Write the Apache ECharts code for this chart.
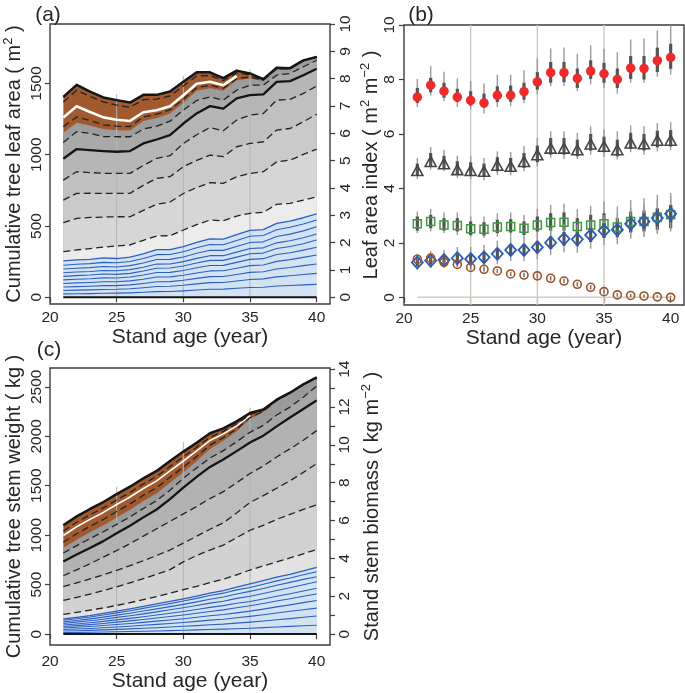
<!DOCTYPE html>
<html><head><meta charset="utf-8">
<script src="https://cdn.jsdelivr.net/npm/echarts@6/dist/echarts.min.js"></script>
<style>html,body{margin:0;padding:0;background:#fff}#c{width:685px;height:693px}</style>
</head><body><div id="c"></div>
<script>
// ---------------- data ----------------
const ages = [21,22,23,24,25,26,27,28,29,30,31,32,33,34,35,36,37,38,39,40];
const xTicks = [20,25,30,35,40];

// Panel (a): cumulative tree leaf area (m2)
const aTotal     = [1405,1490,1442,1402,1383,1366,1420,1420,1444,1512,1578,1578,1538,1590,1570,1530,1610,1607,1662,1686];
const aBrownDash1= [1370,1452,1410,1370,1348,1333,1386,1390,1412,1482,1552,1556,1520,1574,1560,1527,1607,1605,1661,1686];
const aWhite     = [1262,1340,1300,1262,1245,1237,1298,1312,1340,1418,1498,1512,1488,1551];
const aBrownDash2= [1197,1265,1240,1210,1200,1198,1265,1285,1315,1390,1470,1488,1466,1535,1545,1522,1603,1602,1661,1686];
const aBrownBase = [1155,1225,1205,1180,1172,1170,1236,1257,1290,1365,1448,1467,1449,1522,1534,1517,1600,1600,1660,1686];
const aD5        = [1086,1161,1150,1128,1126,1126,1180,1200,1235,1313,1380,1406,1383,1453,1488,1488,1558,1570,1617,1663];
const aThick     = [972,1040,1033,1026,1021,1026,1079,1107,1138,1219,1290,1341,1324,1395,1418,1423,1511,1516,1558,1603];
const aD4        = [822,881,875,870,869,869,925,974,993,1079,1140,1191,1168,1243,1278,1289,1383,1388,1430,1481];
const aD3        = [682,729,730,729,729,729,785,834,846,916,960,997,986,1056,1079,1091,1173,1184,1231,1285];
const aD2        = [523,554,560,563,565,565,610,652,668,728,770,804,799,846,869,881,950,962,1002,1040];
const aD1        = [320,332,342,352,360,367,400,430,432,472,510,542,537,570,589,596,652,659,682,705];
const aBlueTop   = [255,262,266,276,272,282,305,334,334,355,385,410,408,440,470,475,518,535,558,585];
const aBlue1 = [225,232,236,245,242,251,272,299,300,319,347,370,369,399,428,433,474,491,514,542];
const aBlue2 = [198,204,208,216,213,222,241,265,266,283,309,330,329,357,384,389,427,443,466,495];
const aBlue3 = [172,177,181,188,186,194,211,233,234,250,273,292,292,317,342,347,382,397,418,444];
const aBlue4 = [147,152,156,163,161,168,184,204,205,220,241,259,259,282,305,310,342,356,376,402];
const aBlue5 = [122,127,130,136,135,142,156,174,175,188,207,223,224,245,266,271,300,313,331,351];
const aBlue6 = [97,101,104,109,109,115,127,142,143,155,171,185,186,204,222,227,252,264,280,297];
const aBlue7 = [72,75,78,82,82,87,97,109,110,120,133,145,146,160,175,179,199,209,222,234];
const aBlue8 = [48,50,52,55,56,60,67,76,77,84,94,103,104,114,125,129,143,151,160,168];
const aBlue9 = [24,25,26,28,29,31,35,40,41,45,51,56,57,63,69,71,79,83,87,91];
const aRefX = [25,30,35];
const aRefTop = [1425,1552,1598];

// Panel (b): leaf area index
const bTotal   = [7.35,7.79,7.57,7.35,7.23,7.14,7.42,7.42,7.55,7.91,8.25,8.25,8.04,8.31,8.21,8.00,8.42,8.40,8.69,8.81];
const bTotThinHi  = [8.02,8.49,8.28,8.04,7.94,7.85,8.18,8.18,8.34,8.77,9.14,9.17,8.94,9.26,9.13,9.00,9.47,9.50,9.80,9.99];
const bTotThinLo  = [6.99,7.41,7.20,6.99,6.90,6.75,6.99,7.02,7.14,7.45,7.75,7.75,7.57,7.82,7.69,7.48,7.88,7.88,8.10,8.18];
const bTotThickHi = [7.69,8.06,7.88,7.66,7.57,7.48,7.75,7.78,7.88,8.27,8.64,8.64,8.40,8.70,8.61,8.40,8.86,8.86,9.17,9.31];
const bTotThickLo = [7.14,7.53,7.33,7.17,7.04,6.96,7.17,7.18,7.26,7.63,7.88,7.90,7.69,8.02,7.88,7.69,8.02,8.00,8.27,8.39];
const bTri     = [4.66,4.99,4.91,4.69,4.66,4.63,4.85,4.81,4.99,5.24,5.48,5.48,5.42,5.63,5.55,5.42,5.67,5.64,5.77,5.77];
const bTriThinHi  = [5.12,5.52,5.42,5.20,5.18,5.12,5.36,5.34,5.55,5.85,6.10,6.10,6.04,6.28,6.16,6.10,6.31,6.28,6.40,6.43];
const bTriThinLo  = [4.34,4.69,4.63,4.38,4.34,4.29,4.50,4.48,4.63,4.81,5.12,5.08,5.08,5.24,5.15,5.06,5.33,5.24,5.36,5.40];
const bTriThickHi = [4.91,5.30,5.20,5.00,4.96,4.91,5.15,5.12,5.30,5.57,5.85,5.85,5.79,6.00,5.90,5.79,6.04,6.00,6.12,6.14];
const bTriThickLo = [4.47,4.81,4.75,4.50,4.48,4.44,4.63,4.60,4.75,4.96,5.24,5.24,5.18,5.39,5.33,5.18,5.45,5.39,5.51,5.54];
const bSq      = [2.70,2.79,2.66,2.64,2.52,2.50,2.58,2.60,2.54,2.66,2.75,2.76,2.60,2.66,2.70,2.58,2.79,2.79,2.95,3.03];
const bSqThinHi   = [3.15,3.25,3.12,3.12,2.97,2.97,3.09,3.12,3.03,3.25,3.40,3.44,3.24,3.36,3.52,3.34,3.58,3.64,3.77,3.83];
const bSqThinLo   = [2.36,2.42,2.36,2.29,2.21,2.18,2.23,2.23,2.18,2.29,2.29,2.29,2.18,2.21,2.23,2.11,2.23,2.26,2.36,2.42];
const bSqThickHi  = [2.97,3.03,2.91,2.91,2.79,2.76,2.85,2.87,2.79,2.97,3.09,3.12,2.91,3.03,3.09,2.91,3.15,3.19,3.28,3.40];
const bSqThickLo  = [2.45,2.54,2.45,2.42,2.29,2.27,2.36,2.38,2.29,2.42,2.45,2.45,2.32,2.36,2.36,2.29,2.38,2.42,2.48,2.54];
const bDia     = [1.28,1.35,1.37,1.44,1.41,1.47,1.60,1.74,1.74,1.84,2.01,2.15,2.13,2.29,2.45,2.48,2.70,2.79,2.91,3.07];
const bDiaThinHi  = [1.60,1.70,1.75,1.85,1.85,1.92,2.08,2.22,2.22,2.36,2.55,2.70,2.68,2.85,3.02,3.05,3.30,3.40,3.55,3.70];
const bDiaThinLo  = [1.02,1.08,1.08,1.12,1.08,1.12,1.22,1.33,1.33,1.40,1.55,1.66,1.64,1.78,1.92,1.95,2.15,2.22,2.33,2.48];
const bDiaThickHi = [1.42,1.50,1.53,1.60,1.58,1.65,1.80,1.95,1.95,2.06,2.24,2.40,2.38,2.55,2.72,2.75,2.98,3.08,3.22,3.38];
const bDiaThickLo = [1.15,1.20,1.21,1.27,1.24,1.29,1.40,1.53,1.53,1.62,1.78,1.90,1.88,2.03,2.18,2.21,2.42,2.50,2.60,2.76];
const bCirc    = [1.40,1.44,1.29,1.21,1.10,1.03,0.97,0.86,0.82,0.79,0.70,0.60,0.48,0.37,0.21,0.09,0.07,0.05,0.02,0.00];
const bCircHi  = [1.48,1.52,1.37,1.29,1.18,1.11,1.05,0.94,0.90,0.87,0.78,0.68,0.56,0.45,0.29,0.16,0.13,0.11,0.08,0.06];
const bCircLo  = [1.32,1.36,1.21,1.13,1.02,0.95,0.89,0.78,0.74,0.71,0.62,0.52,0.40,0.29,0.13,0.03,0.01,0.00,0.00,0.00];
const bRefX = [25,30,35];
const bZeroLine = [[21,0],[40,0]];

// Panel (c): cumulative tree stem weight (kg)
const cTotal     = [1100,1190,1265,1335,1415,1490,1575,1650,1750,1845,1935,2030,2080,2150,2235,2270,2370,2440,2525,2595];
const cBrownDash1= [1042,1131,1206,1276,1356,1432,1518,1594,1695,1792,1889,1990,2049,2125,2220,2264,2368,2439,2525,2595];
const cWhite     = [997,1085,1160,1230,1310,1386,1472,1549,1651,1750,1852,1958,2024,2105,2208];
const cBrownDash2= [928,1014,1089,1159,1239,1316,1403,1481,1585,1688,1796,1910,1986,2075,2190,2251,2362,2436,2524,2595];
const cBrownBase = [870,955,1030,1100,1180,1258,1345,1425,1530,1635,1750,1870,1955,2050,2175,2245,2360,2435,2523,2595];
const cE5        = [820,895,965,1035,1110,1185,1270,1350,1455,1575,1680,1780,1855,1945,2040,2110,2215,2295,2395,2507];
const cThick     = [733,805,870,940,1020,1095,1180,1260,1365,1480,1590,1690,1765,1850,1936,2006,2100,2190,2275,2363];
const cE4        = [590,650,712,778,845,915,990,1065,1140,1215,1290,1370,1440,1530,1623,1700,1790,1873,1960,2057];
const cE3        = [480,518,558,600,645,692,742,795,850,920,990,1060,1125,1225,1330,1400,1475,1550,1635,1723];
const cE2        = [340,372,405,440,478,518,560,605,652,730,795,850,900,975,1050,1100,1160,1210,1260,1307];
const cE1        = [200,220,243,265,290,318,348,380,413,450,483,520,555,600,648,690,730,770,812,855];
const cBlueTop   = [153,170,188,210,233,255,280,305,330,357,385,415,440,475,507,540,575,605,640,675];
const cBlue1 = [140,156,173,194,215,236,260,284,308,334,361,390,414,447,472,504,538,567,600,630];
const cBlue2 = [124,138,154,172,192,211,233,255,278,301,326,353,375,405,432,461,494,523,553,580];
const cBlue3 = [108,121,135,151,169,186,205,225,246,267,289,313,333,361,382,410,441,469,499,530];
const cBlue4 = [92,103,115,129,144,159,176,193,211,229,249,270,288,312,330,355,383,408,435,463];
const cBlue5 = [77,86,96,108,121,134,148,163,178,194,211,229,245,266,286,310,335,357,382,406];
const cBlue6 = [62,69,77,87,97,108,119,131,143,156,170,185,198,215,232,253,275,296,318,340];
const cBlue7 = [46,51,57,64,72,80,89,98,108,118,129,141,151,165,179,196,214,231,247,263];
const cBlue8 = [31,34,38,43,48,53,59,65,72,79,86,94,101,111,121,133,145,157,170,183];
const cBlue9 = [15,17,19,21,24,26,29,32,35,39,43,47,50,55,60,66,72,78,84,90];
const cRefX = [25,30,35];
const cRefTop = [1490,1940,2290];
const zeroLine = [[21,0],[40,0]];

const aLeftTicks = [0,500,1000,1500];
const aRightTicks = [0,1,2,3,4,5,6,7,8,9,10];
const bTicks = [0,2,4,6,8,10];
const cLeftTicks = [0,500,1000,1500,2000,2500];
const cRightTicks = [0,1,2,3,4,5,6,7,8,9,10,11,12,13,14];
const cRightLabels = [0,2,4,6,8,10,12,14];

// ---------------- chart ----------------
const FONT = "'Liberation Sans', Arial, sans-serif";
const TXT = '#262626';
const FRAME = '#3c3c3c';
const chart = echarts.init(document.getElementById('c'), null, {renderer:'canvas'});

const pts = arr => arr.map((v,i)=>[ages[i], v]);
const series = [];
function area(xi, yi, arr, color){
  series.push({type:'line', xAxisIndex:xi, yAxisIndex:yi, data:pts(arr), symbol:'none', silent:true, z:1,
    lineStyle:{width:0, opacity:0}, areaStyle:{color:color, opacity:1, origin:'auto'}, animation:false});
}
function line(xi, yi, data, color, width, type, z){
  series.push({type:'line', xAxisIndex:xi, yAxisIndex:yi, data:data, symbol:'none', silent:true, z:z||3,
    lineStyle:{color:color, width:width, type:type||'solid', cap:'butt', join:'round'}, animation:false});
}
const DASH = [7,4];
const BROWN = '#a05a2e';

// ---- panel (a) fills (top to bottom) ----
area(0,0,aTotal,BROWN);
area(0,0,aBrownBase,'#9c9c9c');
area(0,0,aD5,'#a9a9a9');
area(0,0,aThick,'#b6b6b6');
area(0,0,aD4,'#c0c0c0');
area(0,0,aD3,'#cacaca');
area(0,0,aD2,'#d6d6d6');
area(0,0,aD1,'#ececec');
area(0,0,aBlueTop,'#d2e3f4');
aRefX.forEach((x,i)=> line(0,0,[[x,0],[x,aRefTop[i]]],'#b4b4b4',1,'solid',2));
[aBlue1,aBlue2,aBlue3,aBlue4,aBlue5,aBlue6,aBlue7,aBlue8,aBlue9].forEach(b=>line(0,0,pts(b),'#2e5fbf',1.1));
line(0,0,pts(aBlueTop),'#2e5fbf',1.3);
line(0,0,pts(aD1),'#222',1.3,DASH);
line(0,0,pts(aD2),'#222',1.3,DASH);
line(0,0,pts(aD3),'#222',1.3,DASH);
line(0,0,pts(aD4),'#222',1.3,DASH);
line(0,0,pts(aD5),'#222',1.3,DASH);
line(0,0,pts(aThick),'#151515',2.3,'solid',4);
line(0,0,pts(aBrownDash2),'#222',1.3,DASH);
line(0,0,pts(aWhite),'#ffffff',2.6);
line(0,0,pts(aBrownDash1),'#222',1.3,DASH);
line(0,0,pts(aTotal),'#151515',2.5,'solid',4);
line(0,0,zeroLine,'#151515',2,'solid',4);

// ---- panel (c) fills ----
area(2,2,cTotal,BROWN);
area(2,2,cBrownBase,'#9a9a9a');
area(2,2,cE5,'#a6a6a6');
area(2,2,cThick,'#b2b2b2');
area(2,2,cE4,'#bdbdbd');
area(2,2,cE3,'#c7c7c7');
area(2,2,cE2,'#d2d2d2');
area(2,2,cE1,'#e2e2e2');
area(2,2,cBlueTop,'#d2e3f4');
cRefX.forEach((x,i)=> line(2,2,[[x,0],[x,cRefTop[i]]],'#b4b4b4',1,'solid',2));
[cBlue1,cBlue2,cBlue3,cBlue4,cBlue5,cBlue6,cBlue7,cBlue8,cBlue9].forEach(b=>line(2,2,pts(b),'#2e5fbf',1.1));
line(2,2,pts(cBlueTop),'#2e5fbf',1.3);
line(2,2,pts(cE1),'#222',1.3,DASH);
line(2,2,pts(cE2),'#222',1.3,DASH);
line(2,2,pts(cE3),'#222',1.3,DASH);
line(2,2,pts(cE4),'#222',1.3,DASH);
line(2,2,pts(cE5),'#222',1.3,DASH);
line(2,2,pts(cThick),'#151515',2.3,'solid',4);
line(2,2,pts(cBrownDash2),'#222',1.3,DASH);
line(2,2,pts(cWhite),'#ffffff',1.6);
line(2,2,pts(cBrownDash1),'#222',1.3,DASH);
line(2,2,pts(cTotal),'#151515',2.5,'solid',4);
line(2,2,zeroLine,'#151515',2,'solid',4);

// ---- panel (b) ----
bRefX.forEach(x=> line(1,1,[[x,-0.28],[x,10]],'#d3cbc2',1.5,'solid',1));
line(1,1,bZeroLine,'#d3cbc2',1.5,'solid',1);
function errSeries(lo, hi, color, width){
  series.push({type:'custom', xAxisIndex:1, yAxisIndex:1, silent:true, z:3, animation:false,
    data: ages.map((a,i)=>[a, lo[i], hi[i]]),
    encode:{x:0, y:[1,2]},
    renderItem:(params, api)=>{
      const p1 = api.coord([api.value(0), api.value(1)]);
      const p2 = api.coord([api.value(0), api.value(2)]);
      return {type:'line', shape:{x1:p1[0], y1:p1[1], x2:p2[0], y2:p2[1]}, style:{stroke:color, lineWidth:width}};
    }});
}
const THIN = '#9b9b9b', THICK = '#555555';
errSeries(bTotThinLo,bTotThinHi,THIN,1.4); errSeries(bTotThickLo,bTotThickHi,THICK,3.2);
errSeries(bTriThinLo,bTriThinHi,THIN,1.4); errSeries(bTriThickLo,bTriThickHi,THICK,3.2);
errSeries(bSqThinLo,bSqThinHi,THIN,1.4); errSeries(bSqThickLo,bSqThickHi,THICK,3.2);
errSeries(bDiaThinLo,bDiaThinHi,THIN,1.4); errSeries(bDiaThickLo,bDiaThickHi,THICK,3.2);
errSeries(bCircLo,bCircHi,'#777',1.6);
function scat(arr, symbol, size, fill, stroke, bw){
  series.push({type:'scatter', xAxisIndex:1, yAxisIndex:1, data:pts(arr), symbol:symbol, symbolSize:size, z:5, silent:true, animation:false,
    itemStyle:{color:fill, borderColor:stroke, borderWidth:bw, opacity:1}});
}
scat(bTotal,'circle',9.5,'#f02a2a','#f02a2a',0);
scat(bTri,'triangle',[11,10],'rgba(0,0,0,0)','#454545',1.6);
scat(bSq,'rect',8,'rgba(0,0,0,0)','#3a9b3a',1.5);
scat(bDia,'diamond',[11,12],'rgba(0,0,0,0)','#2b5cb8',1.8);
scat(bCirc,'circle',8,'rgba(0,0,0,0)','#9e4f24',1.6);

// ---- axes ----
const tickStyle = {show:true, inside:false, length:5, lineStyle:{color:FRAME, width:1.2}};
const plain = v => String(v);
function xAx(gi, margin, gap){
  return {type:'value', gridIndex:gi, min:20, max:41,
    axisLine:{show:false}, splitLine:{show:false},
    axisTick:Object.assign({customValues:xTicks}, tickStyle),
    axisLabel:{customValues:xTicks, formatter:plain, fontSize:15.5, color:TXT, fontFamily:FONT, margin:margin},
    name:'Stand age (year)', nameLocation:'middle', nameGap:gap,
    nameTextStyle:{fontSize:21, color:TXT, fontFamily:FONT}};
}
function rich(){ return {t:{fontSize:20, fontFamily:FONT, color:TXT, lineHeight:24},
  s:{fontSize:13, fontFamily:FONT, color:TXT, verticalAlign:'top', lineHeight:24, padding:[0,0,6,0]}}; }
function yAx(gi, pos, min, max, tickVals, labelVals, name, gap, margin){
  return {type:'value', gridIndex:gi, position:pos, min:min, max:max,
    axisLine:{show:false}, splitLine:{show:false},
    axisTick:Object.assign({customValues:tickVals}, tickStyle),
    axisLabel:{customValues:labelVals, formatter:plain, rotate:90, fontSize:15.5, color:TXT, fontFamily:FONT, margin:margin},
    name:name, nameLocation:'middle', nameRotate:90, nameGap:gap,
    nameTextStyle:{rich:rich()}};
}

const option = {
  animation:false,
  backgroundColor:'#ffffff',
  textStyle:{fontFamily:FONT},
  grid:[
    {left:50, top:24, width:280, height:280, show:true, borderColor:FRAME, borderWidth:1.4, backgroundColor:'transparent'},
    {left:404, top:25, width:280, height:280, show:true, borderColor:FRAME, borderWidth:1.4, backgroundColor:'transparent'},
    {left:50, top:368, width:280, height:280, show:true, borderColor:FRAME, borderWidth:1.4, backgroundColor:'transparent'}
  ],
  xAxis:[xAx(0,6,21), xAx(1,6,21), xAx(2,9,26)],
  yAxis:[
    yAx(0,'left',-47,1917,aLeftTicks,aLeftTicks,'{t|Cumulative tree leaf area ( m}{s|2}{t| )}',24,5),
    yAx(1,'left',-0.28,10,bTicks,bTicks,'{t|Leaf area index ( m}{s|2}{t| m}{s|\u22122}{t| )}',20,6),
    yAx(2,'left',-110,2690,cLeftTicks,cLeftTicks,'{t|Cumulative tree stem weight ( kg )}',24,5),
    yAx(0,'right',-0.245,10.0,aRightTicks,aRightTicks,'',0,8),
    yAx(2,'right',-0.575,14.06,cRightTicks,cRightLabels,'{t|Stand stem biomass ( kg m}{s|\u22122}{t| )}',30,7)
  ],
  graphic:[
    {type:'text', x:48, y:15, style:{text:'(a)', fontSize:21, fontFamily:FONT, fill:TXT, align:'center', verticalAlign:'middle'}},
    {type:'text', x:421, y:15, style:{text:'(b)', fontSize:21, fontFamily:FONT, fill:TXT, align:'center', verticalAlign:'middle'}},
    {type:'text', x:49, y:350, style:{text:'(c)', fontSize:21, fontFamily:FONT, fill:TXT, align:'center', verticalAlign:'middle'}}
  ],
  series:series
};
chart.setOption(option);
</script>
</body></html>
